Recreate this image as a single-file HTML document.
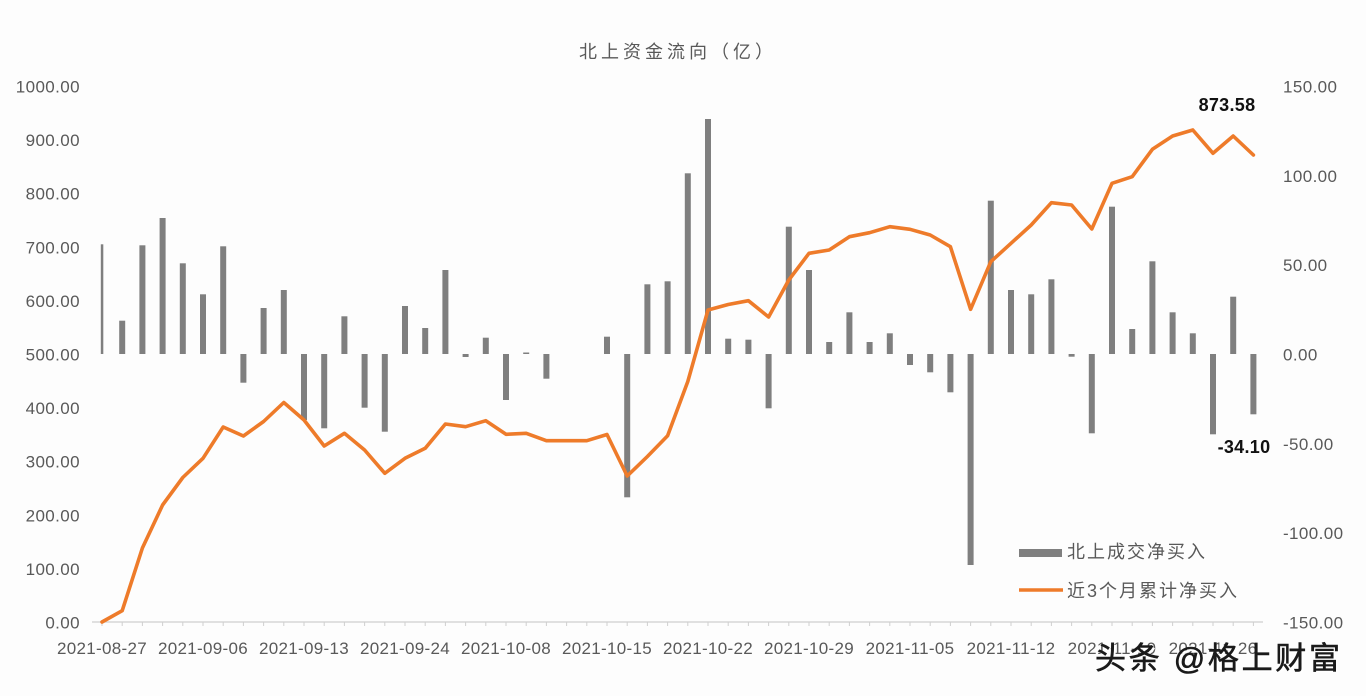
<!DOCTYPE html>
<html>
<head>
<meta charset="utf-8">
<style>
html,body{margin:0;padding:0;background:#fdfdfd;}
svg{display:block;}
text{font-family:"Liberation Sans","Noto Sans CJK SC",sans-serif;}
</style>
</head>
<body>
<svg width="1366" height="696" viewBox="0 0 1366 696" xmlns="http://www.w3.org/2000/svg">
<rect x="0" y="0" width="1366" height="696" fill="#fdfdfd"/>

<!-- Title -->
<text x="678" y="58" font-size="18" fill="#595959" text-anchor="middle" letter-spacing="4">北上资金流向（亿）</text>

<!-- Left axis labels -->
<g font-size="17" fill="#595959" text-anchor="end" letter-spacing="0.4">
<text x="80" y="92.5">1000.00</text>
<text x="80" y="146.1">900.00</text>
<text x="80" y="199.7">800.00</text>
<text x="80" y="253.3">700.00</text>
<text x="80" y="306.9">600.00</text>
<text x="80" y="360.5">500.00</text>
<text x="80" y="414.1">400.00</text>
<text x="80" y="467.7">300.00</text>
<text x="80" y="521.3">200.00</text>
<text x="80" y="574.9">100.00</text>
<text x="80" y="628.5">0.00</text>
</g>

<!-- Right axis labels -->
<g font-size="17" fill="#595959" text-anchor="start" letter-spacing="0.4">
<text x="1283" y="92.5">150.00</text>
<text x="1283" y="181.8">100.00</text>
<text x="1283" y="271.2">50.00</text>
<text x="1283" y="360.5">0.00</text>
<text x="1283" y="449.8">-50.00</text>
<text x="1283" y="539.2">-100.00</text>
<text x="1283" y="628.5">-150.00</text>
</g>

<!-- X axis -->
<line x1="92" y1="622" x2="1263" y2="622" stroke="#cfcfcf" stroke-width="1.2"/>
<g stroke="#cfcfcf" stroke-width="1">
<path d="M102 622v4M122.2 622v4M142.4 622v4M162.6 622v4M182.8 622v4M203 622v4M223.2 622v4M243.4 622v4M263.6 622v4M283.8 622v4M304 622v4M324.2 622v4M344.4 622v4M364.6 622v4M384.8 622v4M405 622v4M425.2 622v4M445.4 622v4M465.6 622v4M485.8 622v4M506 622v4M526.2 622v4M546.4 622v4M566.6 622v4M586.8 622v4M607 622v4M627.2 622v4M647.4 622v4M667.6 622v4M687.8 622v4M708 622v4M728.2 622v4M748.4 622v4M768.6 622v4M788.8 622v4M809 622v4M829.2 622v4M849.4 622v4M869.6 622v4M889.8 622v4M910 622v4M930.2 622v4M950.4 622v4M970.6 622v4M990.8 622v4M1011 622v4M1031.2 622v4M1051.4 622v4M1071.6 622v4M1091.8 622v4M1112 622v4M1132.2 622v4M1152.4 622v4M1172.6 622v4M1192.8 622v4M1213 622v4M1233.2 622v4M1253.4 622v4"/>
</g>

<!-- X labels -->
<g font-size="17" fill="#595959" text-anchor="middle" letter-spacing="0.3">
<text x="102" y="654">2021-08-27</text>
<text x="203" y="654">2021-09-06</text>
<text x="304" y="654">2021-09-13</text>
<text x="405" y="654">2021-09-24</text>
<text x="506" y="654">2021-10-08</text>
<text x="607" y="654">2021-10-15</text>
<text x="708" y="654">2021-10-22</text>
<text x="809" y="654">2021-10-29</text>
<text x="910" y="654">2021-11-05</text>
<text x="1011" y="654">2021-11-12</text>
<text x="1112" y="654">2021-11-19</text>
<text x="1213" y="654">2021-11-26</text>
</g>

<!-- Bars -->
<g fill="#7f7f7f">
<rect x="100.8" y="244.3" width="2.5" height="109.7"/>
<rect x="119.2" y="320.7" width="6" height="33.3"/>
<rect x="139.4" y="245.3" width="6" height="108.7"/>
<rect x="159.6" y="218" width="6" height="136"/>
<rect x="179.8" y="263.3" width="6" height="90.7"/>
<rect x="200" y="294.3" width="6" height="59.7"/>
<rect x="220.2" y="246.3" width="6" height="107.7"/>
<rect x="240.4" y="354" width="6" height="28.7"/>
<rect x="260.6" y="308" width="6" height="46"/>
<rect x="280.8" y="290" width="6" height="64"/>
<rect x="301" y="354" width="6" height="66"/>
<rect x="321.2" y="354" width="6" height="74.3"/>
<rect x="341.4" y="316.3" width="6" height="37.7"/>
<rect x="361.6" y="354" width="6" height="53.7"/>
<rect x="381.8" y="354" width="6" height="77.7"/>
<rect x="402" y="306" width="6" height="48"/>
<rect x="422.2" y="328" width="6" height="26"/>
<rect x="442.4" y="270" width="6" height="84"/>
<rect x="462.6" y="354" width="6" height="3"/>
<rect x="482.8" y="337.7" width="6" height="16.3"/>
<rect x="503" y="354" width="6" height="46"/>
<rect x="523.2" y="352.5" width="6" height="1.5"/>
<rect x="543.4" y="354" width="6" height="24.7"/>
<rect x="604" y="336.7" width="6" height="17.3"/>
<rect x="624.2" y="354" width="6" height="143.3"/>
<rect x="644.4" y="284.3" width="6" height="69.7"/>
<rect x="664.6" y="281.3" width="6" height="72.7"/>
<rect x="684.8" y="173.3" width="6" height="180.7"/>
<rect x="705" y="119" width="6" height="235"/>
<rect x="725.2" y="338.7" width="6" height="15.3"/>
<rect x="745.4" y="339.7" width="6" height="14.3"/>
<rect x="765.6" y="354" width="6" height="54.3"/>
<rect x="785.8" y="226.7" width="6" height="127.3"/>
<rect x="806" y="270" width="6" height="84"/>
<rect x="826.2" y="342" width="6" height="12"/>
<rect x="846.4" y="312.3" width="6" height="41.7"/>
<rect x="866.6" y="342" width="6" height="12"/>
<rect x="886.8" y="333.3" width="6" height="20.7"/>
<rect x="907" y="354" width="6" height="11"/>
<rect x="927.2" y="354" width="6" height="18.3"/>
<rect x="947.4" y="354" width="6" height="38.3"/>
<rect x="967.6" y="354" width="6" height="211"/>
<rect x="987.8" y="200.7" width="6" height="153.3"/>
<rect x="1008" y="290" width="6" height="64"/>
<rect x="1028.2" y="294.3" width="6" height="59.7"/>
<rect x="1048.4" y="279.3" width="6" height="74.7"/>
<rect x="1068.6" y="354" width="6" height="2.7"/>
<rect x="1088.8" y="354" width="6" height="79.3"/>
<rect x="1109" y="206.7" width="6" height="147.3"/>
<rect x="1129.2" y="329" width="6" height="25"/>
<rect x="1149.4" y="261.3" width="6" height="92.7"/>
<rect x="1169.6" y="312.3" width="6" height="41.7"/>
<rect x="1189.8" y="333.3" width="6" height="20.7"/>
<rect x="1210" y="354" width="6" height="80.3"/>
<rect x="1230.2" y="296.7" width="6" height="57.3"/>
<rect x="1250.4" y="354" width="6" height="60.3"/>
</g>

<!-- Line -->
<polyline fill="none" stroke="#EE7B2A" stroke-width="3.6" stroke-linejoin="round" stroke-linecap="round"
points="102,622 122.2,610.7 142.4,548 162.6,505 182.8,477.5 203,458.3 223.2,427 243.4,436 263.6,421.5 283.8,402.5 304,420 324.2,446 344.4,433.3 364.6,450 384.8,473.3 405,458.3 425.2,448.3 445.4,424 465.6,426.7 485.8,420.7 506,434.3 526.2,433.3 546.4,440.7 566.6,440.7 586.8,440.7 607,434.5 627.2,476 647.4,456.5 667.6,435.8 687.8,381.5 708,310 728.2,304.5 748.4,300.7 768.6,317 788.8,280 809,253.3 829.2,250 849.4,236.7 869.6,232.7 889.8,226.7 910,229.3 930.2,235 950.4,246.7 970.6,309.3 990.8,261.7 1011,243.3 1031.2,225 1051.4,202.7 1071.6,205 1091.8,229 1112,183.3 1132.2,176.7 1152.4,149.3 1172.6,136 1192.8,130 1213,153.3 1233.2,136 1253.4,155"/>

<!-- Data labels -->
<text x="1227" y="111" font-size="18" font-weight="bold" fill="#111" text-anchor="middle" letter-spacing="0.3">873.58</text>
<text x="1244" y="453" font-size="18" font-weight="bold" fill="#111" text-anchor="middle" letter-spacing="0.3">-34.10</text>

<!-- Legend -->
<rect x="1019" y="549" width="43" height="8" fill="#7f7f7f"/>
<text x="1067" y="558" font-size="18" fill="#595959" letter-spacing="2">北上成交净买入</text>
<line x1="1019" y1="590" x2="1063" y2="590" stroke="#EE7B2A" stroke-width="3.6"/>
<text x="1067" y="597" font-size="18" fill="#595959" letter-spacing="2">近3个月累计净买入</text>

<!-- Watermark -->
<text x="1097" y="671" font-size="31" fill="#ffffff" letter-spacing="2.7">头条 @格上财富</text>
<text x="1095" y="669" font-size="31" fill="#1a1a1a" stroke="#1a1a1a" stroke-width="0.6" letter-spacing="2.7">头条 @格上财富</text>
</svg>
</body>
</html>
